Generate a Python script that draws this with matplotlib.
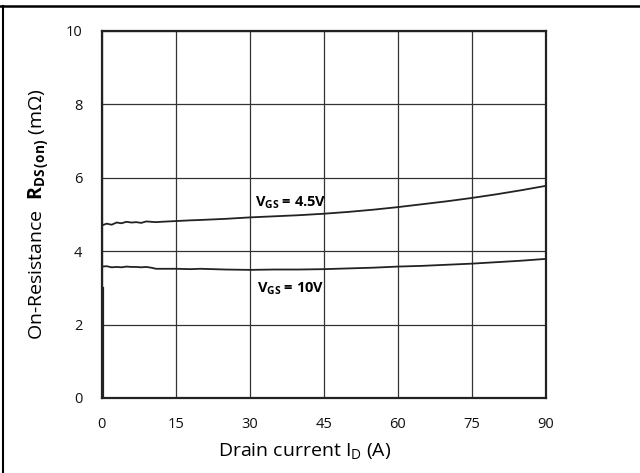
import matplotlib.pyplot as plt
from matplotlib.lines import Line2D

plt.rcParams['font.family'] = ['Open Sans', 'DejaVu Sans']
plt.rcParams['mathtext.fontset'] = 'custom'
plt.rcParams['mathtext.rm'] = 'Open Sans'
plt.rcParams['mathtext.bf'] = 'Open Sans:bold'

# drain current (A)
current = [0, 1, 2, 3, 4, 5, 6, 7, 8, 9, 10, 11, 12, 15, 18, 20, 25, 30, 35, 40,
           45, 50, 55, 60, 65, 70, 75, 80, 85, 90]

# on-resistance (mOhm)
rds_45v = [4.70, 4.75, 4.72, 4.78, 4.76, 4.80, 4.78, 4.79, 4.77, 4.81, 4.80, 4.79,
           4.80, 4.82, 4.84, 4.85, 4.88, 4.92, 4.95, 4.98, 5.02, 5.07, 5.13, 5.20,
           5.28, 5.36, 5.45, 5.55, 5.66, 5.78]
rds_10v = [3.58, 3.59, 3.56, 3.57, 3.56, 3.58, 3.57, 3.57, 3.56, 3.57, 3.55, 3.52,
           3.52, 3.52, 3.51, 3.52, 3.50, 3.49, 3.50, 3.50, 3.51, 3.53, 3.55, 3.58,
           3.60, 3.63, 3.66, 3.70, 3.74, 3.79]

# rise of the trace at start-up
start_x = [0.3, 0.3]
start_y = [0.0, 3.0]

fig = plt.figure(figsize=(6.4, 4.73), dpi=100)
ax = fig.add_axes([0.159, 0.1586, 0.694, 0.776])

ax.plot(current, rds_45v, color='#222222', lw=1.3)
ax.plot(current, rds_10v, color='#222222', lw=1.3)
ax.plot(start_x, start_y, color='#222222', lw=1.6)

ax.set_xlim(0, 90)
ax.set_ylim(0, 10)
ax.set_xticks(range(0, 91, 15))
ax.set_yticks(range(0, 11, 2))
ax.grid(True, color='#333333', lw=0.9)
ax.tick_params(length=0, labelsize=10.5, pad=14, colors='#111111')
for s in ax.spines.values():
    s.set_linewidth(1.6)
    s.set_color('#222222')

ax.text(38.3, 5.31, r'V$_{\mathbf{GS}}$ = 4.5V', ha='center', va='center',
        fontsize=10.5, fontweight='bold')
ax.text(38.3, 2.97, r'V$_{\mathbf{GS}}$ = 10V', ha='center', va='center',
        fontsize=10.5, fontweight='bold')

ax.set_xlabel(r'Drain current I$_{\mathrm{D}}$ (A)', fontsize=14)
ax.xaxis.set_label_coords(0.457, -0.118)
ax.set_ylabel(r'On-Resistance  $\mathbf{R_{DS\,(on)}}$ (m$\Omega$)', fontsize=14,
              labelpad=10)

# frame lines along the top and left edge
fig.add_artist(Line2D([0.0, 1.0], [0.987, 0.987], transform=fig.transFigure,
                      color='black', lw=1.8))
fig.add_artist(Line2D([0.0047, 0.0047], [0.0, 0.987], transform=fig.transFigure,
                      color='black', lw=1.5))

fig.savefig('out.png', dpi=100)
